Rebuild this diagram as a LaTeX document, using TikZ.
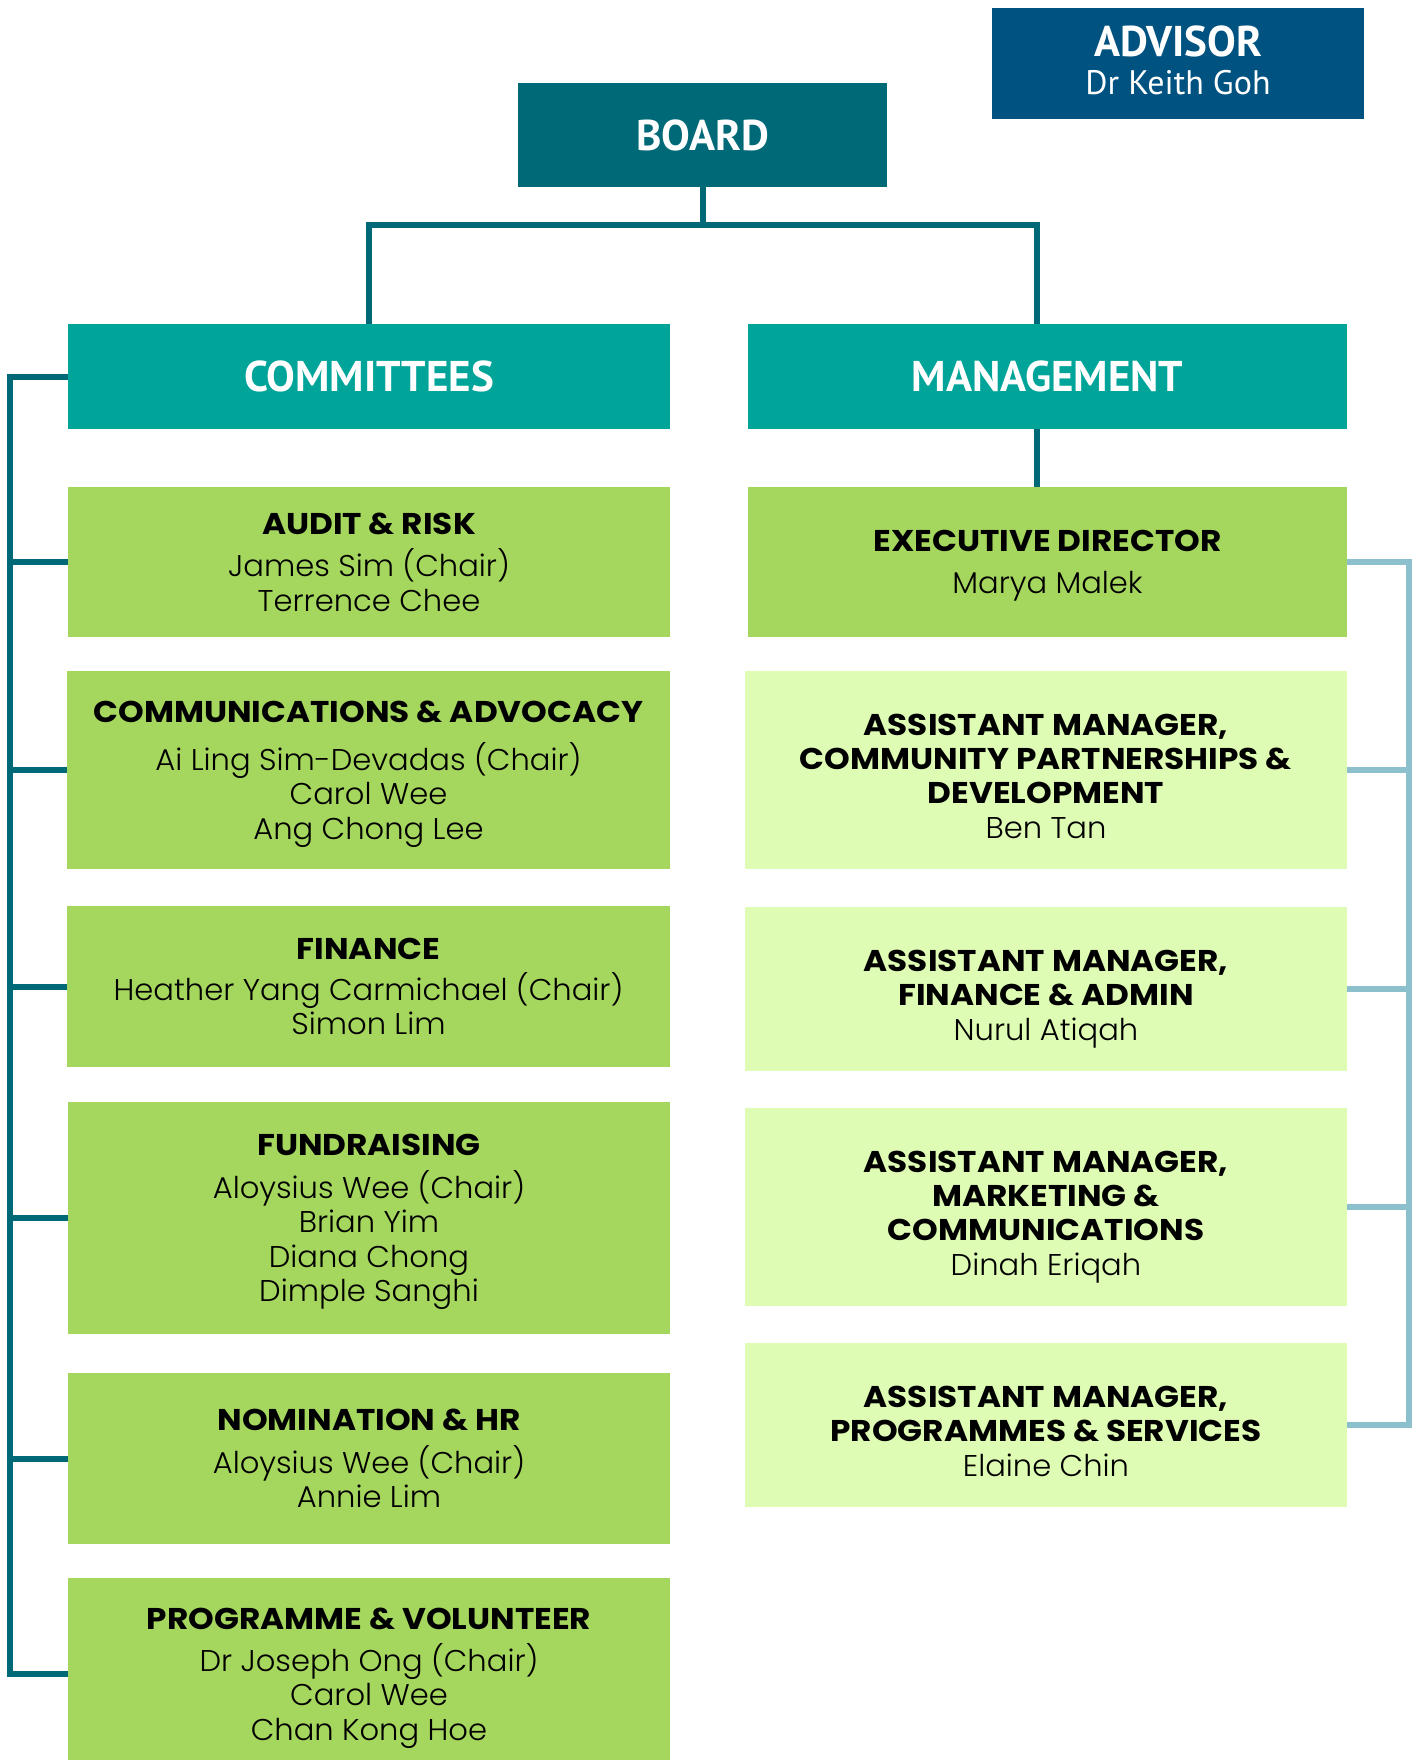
\documentclass[tikz,border=0pt]{standalone}
\usepackage{fontspec}
\setmainfont{Poppins}[BoldFeatures={FakeStretch=1.09}]
\newfontfamily\namefont[FakeStretch=1.02]{Poppins Light}
\newfontfamily\headfont{PT Sans}
\definecolor{advisorblue}{RGB}{0,82,128}
\definecolor{boardteal}{RGB}{0,105,119}
\definecolor{headteal}{RGB}{0,164,153}
\definecolor{midgreen}{RGB}{165,214,94}
\definecolor{palegreen}{RGB}{223,252,180}
\definecolor{lightline}{RGB}{139,192,204}
\begin{document}
\begin{tikzpicture}[x=0.5pt,y=-0.5pt,
  basebox/.style={rectangle, inner sep=0pt, align=center},
  headbox/.style={basebox, text=white, font=\headfont\bfseries\fontsize{21.5}{24}\selectfont},
  gbox/.style={basebox, fill=midgreen, text=black, text depth=0pt, font=\fontsize{15}{17.2}\selectfont},
  pbox/.style={basebox, fill=palegreen},
  ptext/.style={basebox, text=black, text depth=0pt, font=\fontsize{15}{17.2}\selectfont},
  darkconn/.style={draw=boardteal, line width=3pt},
  lightconn/.style={draw=lightline, line width=3pt}]
\useasboundingbox (0,0) rectangle (1418,1760);

% top
\node[headbox, fill=advisorblue, minimum width=186pt, minimum height=55.5pt, text depth=3.5pt] (advisor) at (1178,63.5)
  {ADVISOR\\[-5pt]{\mdseries\fontsize{17}{19}\selectfont Dr Keith Goh}};
\node[headbox, fill=boardteal, minimum width=184.5pt, minimum height=52pt] (board) at (702.5,135) {BOARD};
\node[headbox, fill=headteal, minimum width=301pt, minimum height=52.5pt] (committees) at (369,376.5) {COMMITTEES};
\node[headbox, fill=headteal, minimum width=299.5pt, minimum height=52.5pt] (management) at (1047.5,376.5) {MANAGEMENT};

% committees
\node[gbox, minimum width=301pt, minimum height=75pt] (audit) at (369,562)
  {\textbf{AUDIT \& RISK}\\[4pt]{\namefont James Sim (Chair)}\\{\namefont Terrence Chee}};
\node[gbox, minimum width=301.5pt, minimum height=99pt] (comm) at (368.5,770)
  {\textbf{COMMUNICATIONS \& ADVOCACY}\\[7pt]{\namefont Ai Ling Sim-Devadas (Chair)}\\{\namefont Carol Wee}\\{\namefont Ang Chong Lee}};
\node[gbox, minimum width=301.5pt, minimum height=80.5pt] (finance) at (368.5,986.5)
  {\textbf{FINANCE}\\[3pt]{\namefont Heather Yang Carmichael (Chair)}\\{\namefont Simon Lim}};
\node[gbox, minimum width=301pt, minimum height=116pt] (fund) at (369,1218)
  {\textbf{FUNDRAISING}\\[4pt]{\namefont Aloysius Wee (Chair)}\\{\namefont Brian Yim}\\{\namefont Diana Chong}\\{\namefont Dimple Sanghi}};
\node[gbox, minimum width=301pt, minimum height=85.5pt] (nom) at (369,1458.5)
  {\textbf{NOMINATION \& HR}\\[4pt]{\namefont Aloysius Wee (Chair)}\\{\namefont Annie Lim}};
\node[gbox, minimum width=301pt, minimum height=96pt] (prog) at (369,1674)
  {\textbf{PROGRAMME \& VOLUNTEER}\\[4pt]{\namefont Dr Joseph Ong (Chair)}\\{\namefont Carol Wee}\\{\namefont Chan Kong Hoe}};

% management
\node[gbox, minimum width=299.5pt, minimum height=75pt] (ed) at (1047.5,562)
  {\textbf{EXECUTIVE DIRECTOR}\\[4pt]{\namefont Marya Malek}};
\node[pbox, minimum width=301pt, minimum height=99pt] (cpd) at (1046,770) {};
\node[ptext] (cpd-t) at ([yshift=-3pt]cpd.center)
  {\textbf{ASSISTANT MANAGER,}\\\textbf{COMMUNITY PARTNERSHIPS \&}\\\textbf{DEVELOPMENT}\\{\namefont Ben Tan}};
\node[pbox, minimum width=301pt, minimum height=82pt] (fa) at (1046,989) {};
\node[ptext] (fa-t) at ([yshift=-3pt]fa.center)
  {\textbf{ASSISTANT MANAGER,}\\\textbf{FINANCE \& ADMIN}\\{\namefont Nurul Atiqah}};
\node[pbox, minimum width=301pt, minimum height=99pt] (mc) at (1046,1207) {};
\node[ptext] (mc-t) at ([yshift=-3pt]mc.center)
  {\textbf{ASSISTANT MANAGER,}\\\textbf{MARKETING \&}\\\textbf{COMMUNICATIONS}\\{\namefont Dinah Eriqah}};
\node[pbox, minimum width=301pt, minimum height=82pt] (ps) at (1046,1425) {};
\node[ptext] (ps-t) at ([yshift=-3pt]ps.center)
  {\textbf{ASSISTANT MANAGER,}\\\textbf{PROGRAMMES \& SERVICES}\\{\namefont Elaine Chin}};

% connector helpers
\coordinate (bj) at (702.5,225);
\coordinate (mx) at (1037,225);
\coordinate (lb) at (10,0);
\coordinate (rb) at (1409,0);

% board connectors
\draw[darkconn] (board.south) -- (bj);
\draw[darkconn] (committees.north) |- (mx) -- (management.north -| mx);
\draw[darkconn] (management.south -| mx) -- (ed.north -| mx);

% left bus
\draw[darkconn] (committees.west) -| (prog.west -| lb) -- (prog.west);
\foreach \n in {audit,comm,finance,fund,nom}
  \draw[darkconn] (\n.west) -- (\n.west -| lb);

% right bus
\draw[lightconn] (ed.east) -| (ps.east -| rb) -- (ps.east);
\foreach \n in {cpd,fa,mc}
  \draw[lightconn] (\n.east) -- (\n.east -| rb);
\end{tikzpicture}
\end{document}
